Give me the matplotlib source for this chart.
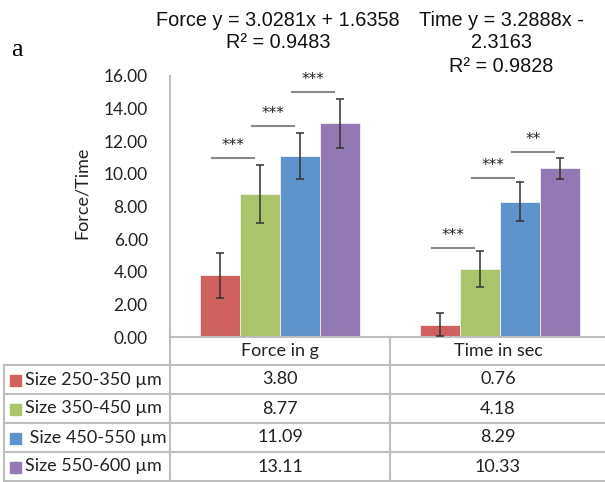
import matplotlib

matplotlib.use("Agg")
import matplotlib.pyplot as plt
from matplotlib.lines import Line2D
from matplotlib.patches import Rectangle

# data
categories = ["Force in g", "Time in sec"]
sizes = ["Size 250-350 µm", "Size 350-450 µm", " Size 450-550 µm", "Size 550-600 µm"]
force_means = [3.80, 8.77, 11.09, 13.11]
time_means = [0.76, 4.18, 8.29, 10.33]
force_err = [1.38, 1.80, 1.43, 1.50]
time_err = [0.70, 1.10, 1.20, 0.63]
force_sig = ["***", "***", "***"]
time_sig = ["***", "***", "**"]
force_sig_y = [11.0, 12.94, 15.0]
time_sig_y = [5.44, 9.75, 11.35]
yticks = [0, 2, 4, 6, 8, 10, 12, 14, 16]
colors = ["#CF625E", "#A9C46B", "#5E94CB", "#9379B3"]
force_eq = ["Force y = 3.0281x + 1.6358", "R² = 0.9483"]
time_eq = ["Time y = 3.2888x -", "2.3163", "R² = 0.9828"]

W, H = 605, 482
GRID = "#BDBDBD"
TFONT = "Lato"


def fx(px):
    return px / W


def fy(py):
    return 1 - py / H


fig = plt.figure(figsize=(W / 100, H / 100), dpi=100)
ax = fig.add_axes([fx(170), fy(337), 440 / W, (337 - 76) / H])

bw = 0.182
offsets = [(i - 1.5) * bw for i in range(4)]
for i in range(4):
    xs = [0 + offsets[i], 1 + offsets[i]]
    ax.bar(xs, [force_means[i], time_means[i]], width=bw, color=colors[i],
           edgecolor="#F2F2F2", linewidth=0.6, zorder=2)
    ax.errorbar(xs, [force_means[i], time_means[i]], yerr=[force_err[i], time_err[i]],
                fmt="none", ecolor="#333333", elinewidth=1.1, capsize=3.2, capthick=1.1, zorder=3)

# significance brackets between neighbouring bars
for c, (sig, sy) in enumerate([(force_sig, force_sig_y), (time_sig, time_sig_y)]):
    for j in range(3):
        x0 = c + offsets[j] - 0.2 * bw
        x1 = c + offsets[j + 1] - 0.15 * bw
        ax.plot([x0, x1], [sy[j], sy[j]], color="#8A8A8A", lw=1.5, zorder=3)
        ax.text((x0 + x1) / 2, sy[j] + 0.3, sig[j], ha="center", va="bottom",
                fontsize=11, color="#222222")

ax.set_xlim(-0.5, 1.5)
ax.set_ylim(0, 16)
ax.set_yticks(yticks)
ax.set_yticklabels([f"{v:.2f}" for v in yticks], family=TFONT, fontsize=12.5, color="#222222")
ax.tick_params(axis="y", length=0, pad=16)
ax.set_xticks([])
for s in ["top", "right"]:
    ax.spines[s].set_visible(False)
ax.spines["left"].set_color(GRID)
ax.spines["left"].set_linewidth(1.5)
ax.spines["bottom"].set_color(GRID)
ax.spines["bottom"].set_linewidth(1.5)

fig.text(fx(82), fy(193), "Force/Time", rotation=90, ha="center", va="center",
         family=TFONT, fontsize=13, color="#222222")

# table below the bars
def hline(x0, x1, y):
    fig.add_artist(Line2D([fx(x0), fx(x1)], [fy(y), fy(y)], color=GRID, lw=1.5))


def vline(x, y0, y1):
    fig.add_artist(Line2D([fx(x), fx(x)], [fy(y0), fy(y1)], color=GRID, lw=1.5))


row_lines = [365, 394, 423, 452, 481]
for y in row_lines:
    hline(4, 605, y)
vline(4, 365, 481)
vline(170, 337, 482)
vline(390, 337, 482)

col_x = [280, 498]
for k, cat in enumerate(categories):
    fig.text(fx(col_x[k]), fy(351), cat, ha="center", va="center",
             family=TFONT, fontsize=13, color="#222222")

for i in range(4):
    yc = (row_lines[i] + row_lines[i + 1]) / 2
    fig.add_artist(Rectangle((fx(10), fy(yc + 6)), 11 / W, 11 / H, color=colors[i],
                             transform=fig.transFigure))
    fig.text(fx(25), fy(yc), sizes[i], ha="left", va="center",
             family=TFONT, fontsize=13, color="#222222")
    fig.text(fx(col_x[0]), fy(yc), f"{force_means[i]:.2f}", ha="center", va="center",
             family=TFONT, fontsize=13, color="#222222")
    fig.text(fx(col_x[1]), fy(yc), f"{time_means[i]:.2f}", ha="center", va="center",
             family=TFONT, fontsize=13, color="#222222")

# regression annotations, one line at a time
line_y = [20, 43, 66]
for k, t in enumerate(force_eq):
    fig.text(fx(278), fy(line_y[k]), t, ha="center", va="center",
             family="Liberation Sans", fontsize=14.3, color="#111111")
for k, t in enumerate(time_eq):
    fig.text(fx(501), fy(line_y[k]), t, ha="center", va="center",
             family="Liberation Sans", fontsize=14.3, color="#111111")
fig.text(fx(11), fy(50), "a", ha="left", va="center", family="Liberation Serif", fontsize=19)

fig.savefig("out.png", dpi=100)
